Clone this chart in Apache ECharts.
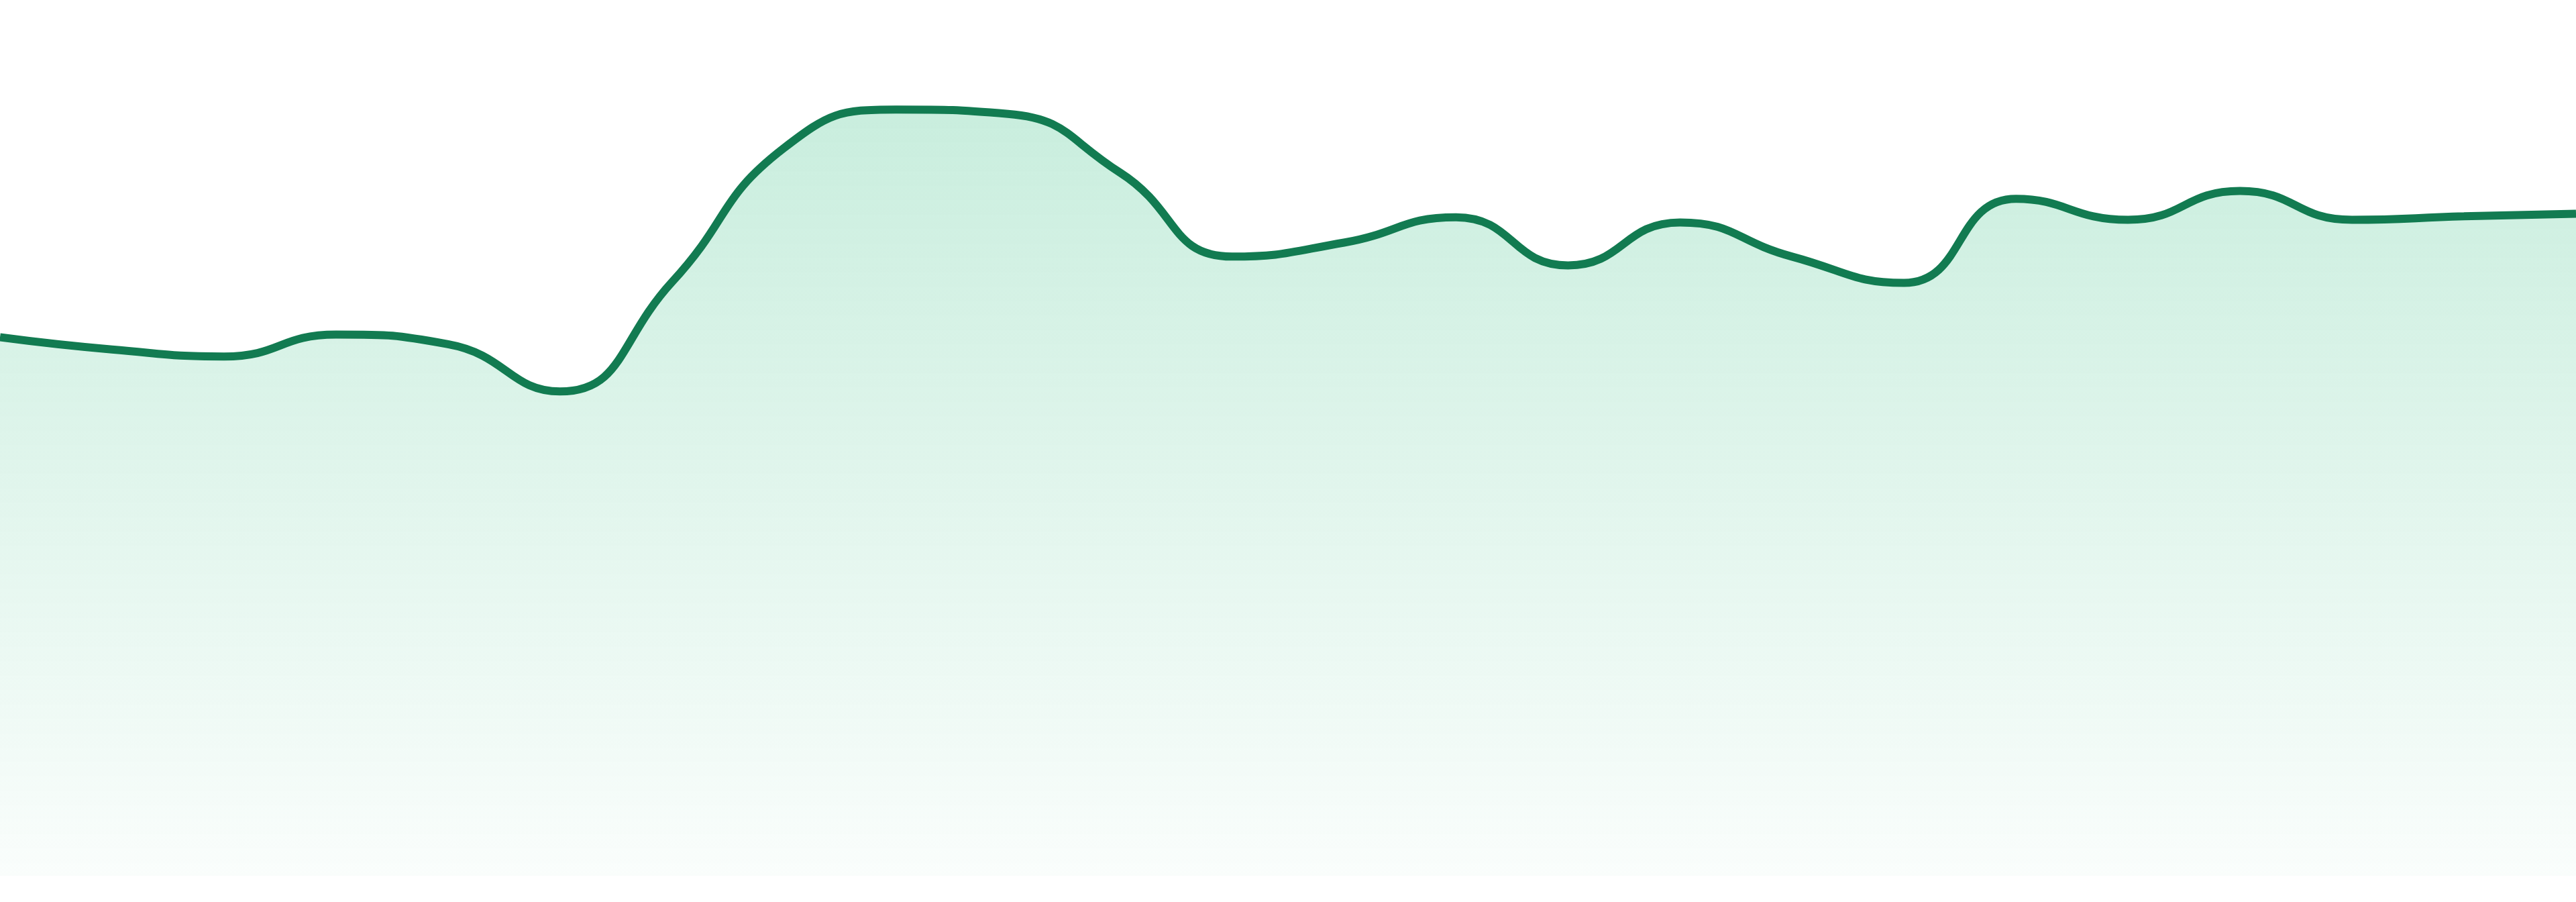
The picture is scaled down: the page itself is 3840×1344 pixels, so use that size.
<!DOCTYPE html>
<html>
<head>
<meta charset="utf-8">
<script src="https://cdn.jsdelivr.net/npm/echarts@6/dist/echarts.min.js"></script>
<style>
  html, body { margin: 0; padding: 0; background: #ffffff; }
  #chart { width: 3840px; height: 1344px; }
</style>
</head>
<body>
<div id="chart"></div>
<script>
// 24 samples, the picture shows no axis labels
var categories = ['1','2','3','4','5','6','7','8','9','10','11','12',
                  '13','14','15','16','17','18','19','20','21','22','23','24'];
var values = [61.5, 60.1, 59.3, 61.8, 60.7, 55.3, 67.8, 83.1, 87.5, 87.0, 80.3, 70.7,
              72.3, 75.2, 69.7, 74.6, 70.7, 67.7, 77.3, 74.9, 78.2, 74.9, 75.3, 75.6];

var myChart = echarts.init(document.getElementById('chart'));

myChart.setOption({
  animation: false,
  grid: { left: 0, right: 0, top: 0, bottom: 39 },
  xAxis: {
    type: 'category',
    data: categories,
    boundaryGap: false,
    axisLine: { show: false },
    axisTick: { show: false },
    axisLabel: { show: false },
    splitLine: { show: false }
  },
  yAxis: {
    type: 'value',
    min: 0,
    max: 100,
    interval: 10,
    axisLine: { show: false },
    axisTick: { show: false },
    axisLabel: { show: false },
    splitLine: { show: false }
  },
  series: [{
    type: 'line',
    data: values,
    smooth: true,
    showSymbol: false,
    lineStyle: { color: '#127b51', width: 12 },
    areaStyle: {
      color: new echarts.graphic.LinearGradient(0, 0, 0, 1, [
        { offset: 0, color: 'rgba(20, 180, 110, 0.33)' },
        { offset: 1, color: 'rgba(20, 180, 110, 0.03)' }
      ])
    }
  }]
});
</script>
</body>
</html>
